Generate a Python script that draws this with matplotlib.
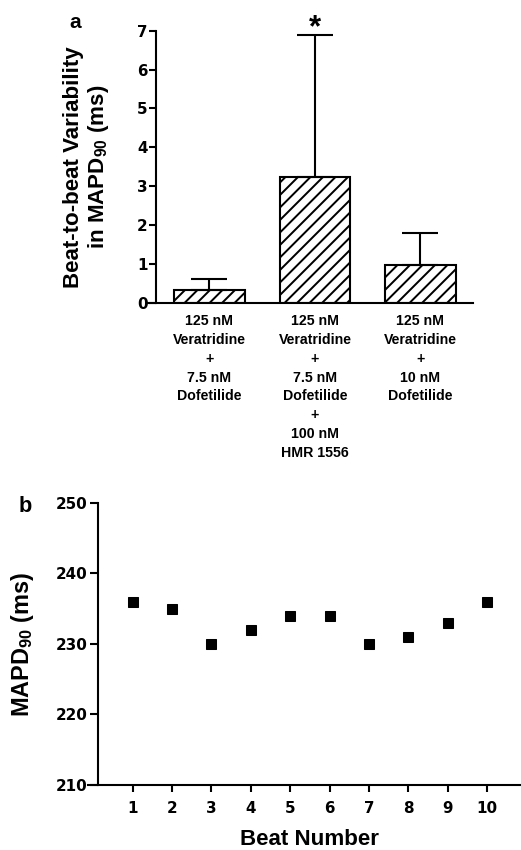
import matplotlib
matplotlib.use('Agg')
import matplotlib.pyplot as plt
import numpy as np

plt.rcParams['font.family'] = ['Liberation Sans', 'DejaVu Sans']
plt.rcParams['font.weight'] = 'bold'
plt.rcParams['mathtext.fontset'] = 'custom'
plt.rcParams['mathtext.rm'] = 'Liberation Sans:bold'
plt.rcParams['mathtext.it'] = 'Liberation Sans:bold'
plt.rcParams['mathtext.bf'] = 'Liberation Sans:bold'
plt.rcParams['hatch.linewidth'] = 1.9

# Panel a: Balken mit Fehlerbalken (nur nach oben)
Gruppen = ['125 nM\nVeratridine\n+\n7.5 nM\nDofetilide',
           '125 nM\nVeratridine\n+\n7.5 nM\nDofetilide\n+\n100 nM\nHMR 1556',
           '125 nM\nVeratridine\n+\n10 nM\nDofetilide']
Mittelwert = [0.33, 3.25, 0.97]
Fehler_oben = [0.62, 6.88, 1.80]

# Panel b: MAPD90 pro Schlag
Schlag = [1, 2, 3, 4, 5, 6, 7, 8, 9, 10]
MAPD90 = [236, 235, 230, 232, 234, 234, 230, 231, 233, 236]

W, H, dpi = 521, 850, 75
fig = plt.figure(figsize=(W / dpi, H / dpi), dpi=dpi)
tickfont = ['DejaVu Sans']


def achse(left, top, right, bottom):
    return fig.add_axes([left / W, 1 - bottom / H, (right - left) / W, (bottom - top) / H])


def stil(ax, spine_off):
    for s in ['top', 'right']:
        ax.spines[s].set_visible(False)
    for s in ['left', 'bottom']:
        ax.spines[s].set_linewidth(2.0)
    ax.spines['left'].set_position(('axes', spine_off))
    ax.tick_params(width=2.0, direction='out')


# ---- Panel a ----
ax1 = achse(148, 30.7, 473, 303)
pos = np.arange(len(Gruppen))
err = [np.zeros(3), np.array(Fehler_oben) - np.array(Mittelwert)]
ax1.bar(pos, Mittelwert, width=0.67, color='white', edgecolor='black', linewidth=2.0,
        hatch='//', zorder=2)
ax1.errorbar(pos, Mittelwert, yerr=err, fmt='none', ecolor='black', elinewidth=2.0,
             capsize=17, capthick=2.0, zorder=3)
ax1.text(pos[1], Fehler_oben[1] - 0.02, '*', ha='center', va='baseline', fontsize=30,
         fontweight='bold', clip_on=False)
ax1.set_xlim(-0.583, 2.498)
ax1.set_ylim(0, 7)
ax1.set_yticks(range(0, 8))
ax1.set_xticks(pos)
ax1.set_xticklabels(Gruppen, fontsize=13.5, fontweight='bold', linespacing=1.43, va='top')
stil(ax1, 8 / 325)
ax1.tick_params(axis='y', length=7, labelsize=14.5, pad=1)
ax1.tick_params(axis='x', length=0, pad=11)
for lab in ax1.get_yticklabels():
    lab.set_fontweight('bold')
    lab.set_family(tickfont)

fig.text(87 / W, 1 - 167 / H, 'Beat-to-beat Variability\nin MAPD$_{90}$ (ms)', rotation=90,
         ha='center', va='center', fontsize=21.5, fontweight='bold', linespacing=1.1)
fig.text(75 / W, 1 - 28 / H, 'a', ha='center', va='baseline', fontsize=20, fontweight='bold')

# ---- Panel b ----
ax2 = achse(88, 503, 521, 785)
ax2.plot(Schlag, MAPD90, linestyle='none', marker='s', markersize=9.5, color='black')
ax2.set_xlim(-0.135, 10.86)
ax2.set_ylim(210, 250)
ax2.set_yticks(range(210, 251, 10))
ax2.set_xticks(Schlag)
stil(ax2, 9.7 / 433)
ax2.tick_params(axis='y', length=8, labelsize=14.5, pad=2)
ax2.tick_params(axis='x', length=7, labelsize=14.5, pad=8)
for lab in ax2.get_xticklabels() + ax2.get_yticklabels():
    lab.set_fontweight('bold')
    lab.set_family(tickfont)

fig.text(23 / W, 1 - 644 / H, 'MAPD$_{90}$ (ms)', rotation=90, ha='center', va='center',
         fontsize=22.5, fontweight='bold')
fig.text(310 / W, 1 - 845 / H, 'Beat Number', ha='center', va='baseline', fontsize=21.5,
         fontweight='bold')
fig.text(25 / W, 1 - 512 / H, 'b', ha='center', va='baseline', fontsize=21, fontweight='bold')

fig.savefig('out.png', dpi=dpi)
